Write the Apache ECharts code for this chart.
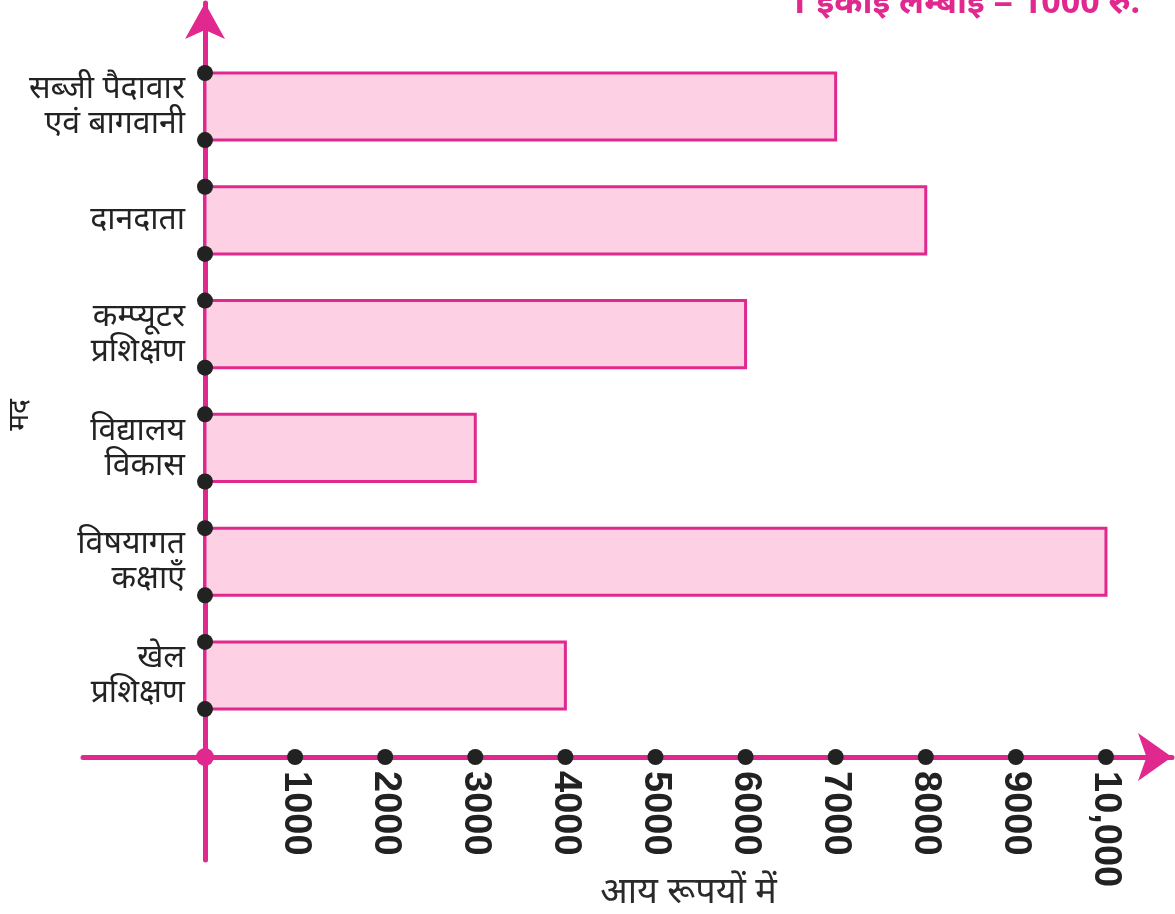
<!DOCTYPE html>
<html>
<head>
<meta charset="utf-8">
<script src="https://cdn.jsdelivr.net/npm/echarts@6/dist/echarts.min.js"></script>
<style>
  html, body { margin: 0; padding: 0; background: #fff; }
  #chart { width: 1175px; height: 914px; }
</style>
</head>
<body>
<div id="chart"></div>
<script>
// categories from bottom to top
var categories = [
    'खेल\nप्रशिक्षण',
    'विषयागत\nकक्षाएँ',
    'विद्यालय\nविकास',
    'कम्प्यूटर\nप्रशिक्षण',
    'दानदाता',
    'सब्जी पैदावार\nएवं बागवानी'
];
var income = [4000, 10000, 3000, 6000, 8000, 7000];
var tickValues = [1000, 2000, 3000, 4000, 5000, 6000, 7000, 8000, 9000, 10000];
var tickLabels = ['1000', '2000', '3000', '4000', '5000', '6000', '7000', '8000', '9000', '10,000'];

var PINK = '#e0288f';
var DOT = '#222222';
var ROW_OFFSET = 0.716;   // gap between x axis and first bar centre
var HALF = 0.295;         // half bar thickness
var FONT = "'Noto Sans', 'Noto Sans Devanagari', sans-serif";

var barData = income.map(function (v, i) { return [v, i]; });
var tickDots = tickValues.map(function (v) { return [v, 0]; });

var option = {
    animation: false,
    title: {
        text: '1 इकाई लम्बाई = 1000 रु.',
        right: 35,
        top: -14,
        padding: 0,
        textStyle: { color: PINK, fontSize: 34, fontWeight: 'bold', fontFamily: FONT }
    },
    grid: [
        // data grid: its left / bottom edges are the axes
        { left: 205, right: 3, top: 3, bottom: 157, outerBoundsMode: 'none' },
        // wider grid only for the long axis lines with arrows
        { left: 83, right: 3, top: 3, bottom: 54, outerBoundsMode: 'none' }
    ],
    xAxis: [
        {
            type: 'value',
            gridIndex: 0,
            min: 0,
            max: 10733,
            name: 'आय रूपयों में',
            nameLocation: 'middle',
            nameGap: 118,
            nameMoveOverlap: false,
            nameTextStyle: { color: '#2a2a2a', fontSize: 36, fontFamily: FONT },
            axisLine: { show: false },
            axisTick: { show: false },
            splitLine: { show: false },
            axisLabel: {
                customValues: tickValues,
                rotate: -90,
                margin: 14,
                color: DOT,
                fontSize: 38,
                fontWeight: 'bold',
                fontFamily: "'Liberation Sans Narrow', 'Liberation Sans', sans-serif",
                formatter: function (v) {
                    return tickLabels[tickValues.indexOf(v)];
                }
            }
        },
        {
            type: 'value',
            gridIndex: 1,
            min: -1354,
            max: 10730,
            axisLine: {
                onZero: true,
                symbol: ['none', 'arrow'],
                symbolSize: [36, 34],
                lineStyle: { color: PINK, width: 5 }
            },
            axisTick: { show: false },
            axisLabel: { show: false },
            splitLine: { show: false }
        }
    ],
    yAxis: [
        {
            type: 'value',
            gridIndex: 0,
            min: 0,
            max: 6.626,
            name: 'मद',
            nameLocation: 'middle',
            nameRotate: 90,
            nameGap: 171,
            nameMoveOverlap: false,
            nameTextStyle: { color: DOT, fontSize: 28, fontFamily: FONT, padding: [0, 70, 0, 0] },
            axisLine: { show: false },
            axisTick: { show: false },
            splitLine: { show: false },
            axisLabel: {
                customValues: categories.map(function (c, i) { return i + ROW_OFFSET; }),
                margin: 20,
                color: DOT,
                fontSize: 32,
                lineHeight: 35,
                align: 'right',
                fontFamily: FONT,
                formatter: function (v) {
                    return categories[Math.round(v - ROW_OFFSET)];
                }
            }
        },
        {
            type: 'value',
            gridIndex: 1,
            min: -0.905,
            max: 6.626,
            axisLine: {
                onZero: true,
                symbol: ['none', 'arrow'],
                symbolSize: [30, 36],
                lineStyle: { color: PINK, width: 5 }
            },
            axisTick: { show: false },
            axisLabel: { show: false },
            splitLine: { show: false }
        }
    ],
    series: [
        {
            type: 'custom',
            xAxisIndex: 0,
            yAxisIndex: 0,
            data: barData,
            clip: false,
            z: 3,
            renderItem: function (params, api) {
                var v = api.value(0);
                var k = api.value(1) + ROW_OFFSET;
                var p0 = api.coord([0, k + HALF]);
                var p1 = api.coord([v, k - HALF]);
                return {
                    type: 'group',
                    children: [
                        {
                            type: 'rect',
                            shape: { x: p0[0], y: p0[1], width: p1[0] - p0[0], height: p1[1] - p0[1] },
                            style: { fill: '#fdd0e3', stroke: PINK, lineWidth: 3 }
                        },
                        { type: 'circle', shape: { cx: p0[0], cy: p0[1], r: 8 }, style: { fill: DOT } },
                        { type: 'circle', shape: { cx: p0[0], cy: p1[1], r: 8 }, style: { fill: DOT } }
                    ]
                };
            }
        },
        {
            type: 'scatter',
            xAxisIndex: 0,
            yAxisIndex: 0,
            data: tickDots,
            clip: false,
            symbolSize: 16,
            itemStyle: { color: DOT, opacity: 1 },
            z: 4
        },
        {
            type: 'scatter',
            xAxisIndex: 0,
            yAxisIndex: 0,
            data: [[0, 0]],
            clip: false,
            symbolSize: 18,
            itemStyle: { color: PINK, opacity: 1 },
            z: 4
        }
    ]
};

var myChart = echarts.init(document.getElementById('chart'));
myChart.setOption(option);
</script>
</body>
</html>
